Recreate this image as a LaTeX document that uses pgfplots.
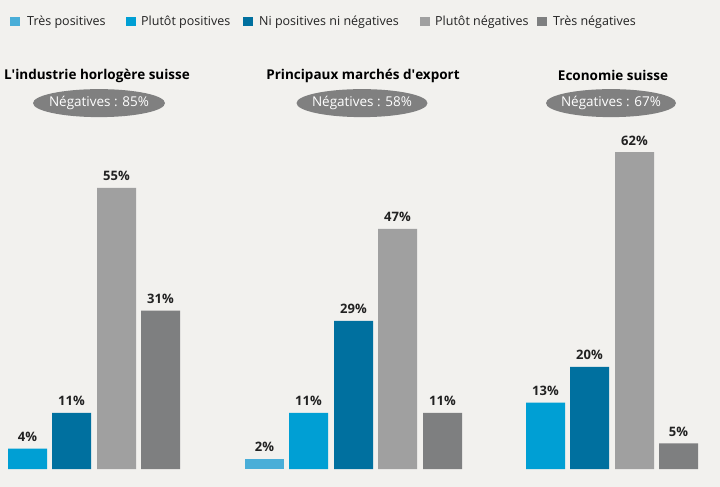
\documentclass[border=0pt]{standalone}
\usepackage{pgfplots}
\pgfplotsset{compat=1.18}
\usepackage{fontspec}
\setmainfont{Open Sans}
\definecolor{bg}{HTML}{F2F1EE}
\definecolor{tpos}{HTML}{4AAED8}
\definecolor{ppos}{HTML}{009FD4}
\definecolor{nini}{HTML}{00709F}
\definecolor{pneg}{HTML}{A0A0A0}
\definecolor{tneg}{HTML}{7E7F80}
\definecolor{ell}{HTML}{808080}
\definecolor{txt}{HTML}{222222}
\begin{document}
\begin{tikzpicture}
\begin{axis}[
  scale only axis, width=720pt, height=487pt,
  xmin=0, xmax=720, ymin=-3.52, ymax=91.78,
  hide axis, clip=false,
  ybar, bar width=39,
  /pgf/number format/assume math mode=true,
  every axis plot/.append style={bar shift=0pt, draw=none},
  nodes near coords={\pgfmathprintnumber{\pgfplotspointmeta}\%},
  every node near coord/.append style={font=\fontsize{13}{15}\selectfont\bfseries, text=txt, yshift=3.5pt},
]
\fill[bg] (rel axis cs:0,0) rectangle (rel axis cs:1,1);
% Très positives
\addplot[fill=tpos] coordinates {(264.5,2)};
% Plutôt positives
\addplot[fill=ppos] coordinates {(27.5,4) (308.5,11) (545.5,13)};
% Ni positives ni négatives
\addplot[fill=nini] coordinates {(71.5,11) (353.5,29) (589.5,20)};
% Plutôt négatives
\addplot[fill=pneg] coordinates {(116.5,55) (397.5,47) (634.5,62)};
% Très négatives
\addplot[fill=tneg] coordinates {(160.5,31) (442.5,11) (678.5,5)};

% legend
\begin{scope}[font=\fontsize{12.5}{14}\selectfont, text=txt]
\fill[tpos] (axis cs:10,86.6) rectangle (axis cs:19.5,88.4);
\node[anchor=west, inner sep=0] at (axis cs:27,87.5) {Très positives};
\fill[ppos] (axis cs:126,86.6) rectangle (axis cs:135.5,88.4);
\node[anchor=west, inner sep=0] at (axis cs:141,87.5) {Plutôt positives};
\fill[nini] (axis cs:243,86.6) rectangle (axis cs:252.5,88.4);
\node[anchor=west, inner sep=0] at (axis cs:259,87.5) {Ni positives ni négatives};
\fill[pneg] (axis cs:420,86.6) rectangle (axis cs:429.5,88.4);
\node[anchor=west, inner sep=0] at (axis cs:435,87.5) {Plutôt négatives};
\fill[tneg] (axis cs:537,86.6) rectangle (axis cs:546.5,88.4);
\node[anchor=west, inner sep=0] at (axis cs:553,87.5) {Très négatives};
\end{scope}

% titles
\begin{scope}[font=\fontsize{13.5}{15}\selectfont\bfseries, text=black]
\node at (axis cs:97,77.0) {L\textquotesingle industrie horlogère suisse};
\node at (axis cs:363,77.0) {Principaux marchés d\textquotesingle export};
\node at (axis cs:613,77.0) {Economie suisse};
\end{scope}
\begin{scope}[font=\fontsize{13.5}{15}\selectfont, text=white]
\fill[ell] (axis cs:99,71.6) ellipse [x radius=66pt, y radius=14pt];
\node at (axis cs:99,71.6) {Négatives : 85\%};
\fill[ell] (axis cs:362,71.6) ellipse [x radius=65.5pt, y radius=14pt];
\node at (axis cs:362,71.6) {Négatives : 58\%};
\fill[ell] (axis cs:611,71.6) ellipse [x radius=65pt, y radius=14pt];
\node at (axis cs:611,71.6) {Négatives : 67\%};
\end{scope}
\end{axis}
\end{tikzpicture}
\end{document}
